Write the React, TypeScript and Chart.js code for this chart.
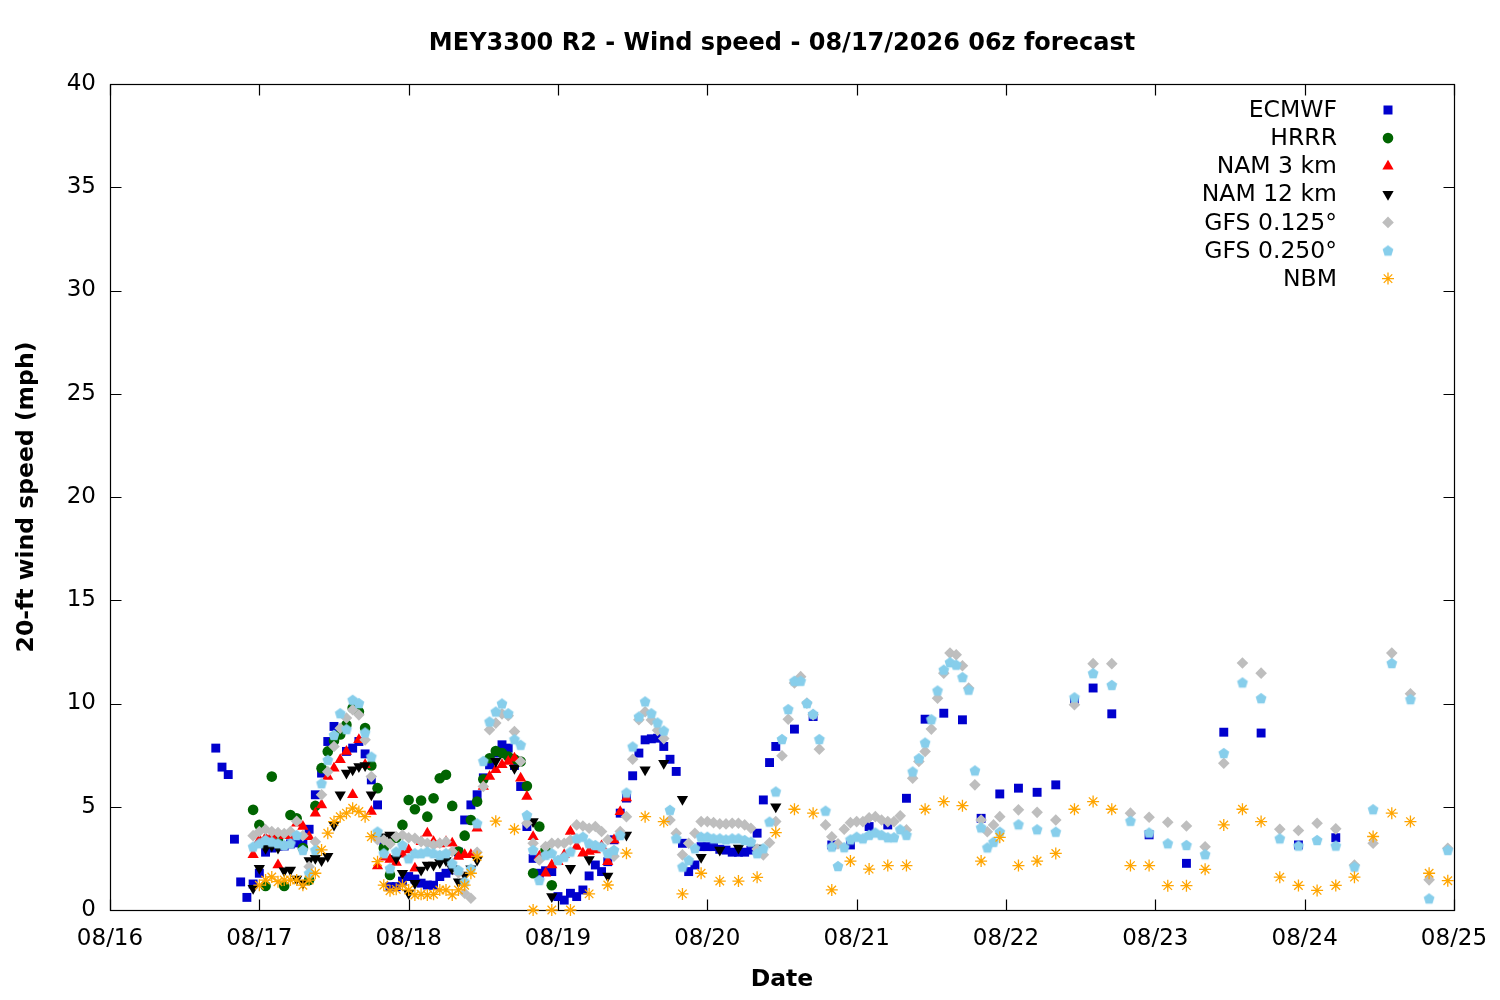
import React, { useEffect, useRef } from 'react';
import { Chart, registerables } from 'chart.js';

Chart.register(...registerables);

// ---------- axis labels ----------
const dateLabels = ['08/16', '08/17', '08/18', '08/19', '08/20', '08/21', '08/22', '08/23', '08/24', '08/25'];
const seriesNames = ['ECMWF', 'HRRR', 'NAM 3 km', 'NAM 12 km', 'GFS 0.125°', 'GFS 0.250°', 'NBM'];

// hours since 08/16 00:00 local time
function range(start: number, end: number, step: number): number[] {
  const r: number[] = [];
  for (let h = start; h <= end; h += step) r.push(h);
  return r;
}

// ---------- ECMWF ----------
const ecmwfHours = [...range(17, 107, 1), ...range(110, 161, 3), ...range(167, 197, 6)];
const ecmwfValues = [
  7.84, 6.92, 6.56, 3.43, 1.36, 0.61, 1.26, 1.78, 2.8, 3.0,
  3.1, 3.1, 3.2, 3.25, 3.23, 3.91, 5.58, 6.63, 8.16, 8.89,
  8.73, 7.68, 7.84, 8.16, 7.56, 6.3, 5.09, 3.23, 1.13, 1.13,
  1.4, 1.62, 1.5, 1.3, 1.21, 1.2, 1.62, 1.78, 1.94, 2.8,
  4.36, 5.09, 5.58, 6.4, 7.03, 7.6, 8.0, 7.84, 7.0, 5.98,
  4.04, 2.5, 1.78, 1.9, 1.86, 0.65, 0.48, 0.81, 0.65, 0.97,
  1.65, 2.18, 1.86, 2.34, 3.4, 4.69, 5.42, 6.5, 7.6, 8.24,
  8.29, 8.32, 7.92, 7.3, 6.71, 3.23, 1.86, 2.18, 3.07, 3.07,
  3.07, 2.94, 2.9, 2.8, 2.8, 2.8, 2.9, 3.72, 5.33, 7.14,
  7.92,
  8.76, 9.37, 3.15, 3.15, 4.04, 4.12, 5.41, 9.24, 9.53, 9.21,
  4.44, 5.62, 5.9, 5.7, 6.06, 10.1, 10.75, 9.5,
  3.64, 2.26, 8.61, 8.57, 3.15, 3.5,
];

// ---------- HRRR ----------
const hrrrHours = range(23, 71, 1);
const hrrrValues = [
  4.85, 4.12, 1.16, 6.46, 3.4, 1.16, 4.6, 4.44, 3.0, 1.45,
  5.04, 6.87, 7.68, 8.2, 8.5, 8.97, 9.78, 9.6, 8.81, 7.0,
  5.9, 3.0, 1.7, 3.5, 4.12, 5.33, 4.88, 5.3, 4.52, 5.41,
  6.38, 6.55, 5.04, 2.83, 3.6, 4.36, 5.25, 6.33, 7.35, 7.7,
  7.6, 7.43, 7.3, 7.19, 6.0, 1.78, 4.04, 2.9, 1.2,
];

// ---------- NAM 3 km ----------
const nam3Hours = range(23, 83, 1);
const nam3Values = [
  2.67, 3.4, 3.5, 3.6, 2.18, 3.6, 3.6, 4.2, 4.04, 3.55,
  4.68, 5.09, 6.46, 6.87, 7.27, 7.68, 5.58, 8.24, 7.03, 4.77,
  2.13, 2.55, 2.45, 2.3, 2.7, 2.9, 2.02, 3.3, 3.72, 3.3,
  3.2, 3.3, 3.23, 2.59, 2.67, 2.67, 3.96, 5.98, 6.46, 6.79,
  7.03, 7.19, 7.35, 6.38, 5.5, 3.55, 2.6, 1.78, 2.18, 2.34,
  2.67, 3.8, 3.07, 2.75, 2.83, 2.9, 3.1, 2.34, 3.39, 4.76,
  5.42,
];

// ---------- NAM 12 km ----------
const nam12Hours = [...range(23, 59, 1), ...range(62, 107, 3)];
const nam12Values = [
  1.05, 2.02, 2.99, 3.1, 3.0, 1.9, 1.94, 1.5, 1.3, 2.4,
  2.51, 2.4, 2.6, 4.12, 5.58, 6.63, 6.79, 6.95, 7.0, 5.58,
  3.5, 3.55, 3.63, 2.5, 1.78, 0.81, 1.29, 1.94, 2.18, 2.18,
  2.3, 2.4, 2.0, 1.37, 1.7, 2.0, 2.42,
  7.2, 6.87, 4.28, 0.65, 2.02, 2.45, 1.65, 3.63, 6.79, 7.11,
  5.36, 2.55, 2.9, 3.0, 3.0, 5.0,
];

// ---------- GFS (both resolutions share the time base) ----------
const gfsHours = [...range(23, 143, 1), ...range(146, 215, 3)];
const gfs125Values = [
  3.6, 3.8, 3.9, 3.8, 3.75, 3.7, 3.8, 4.3, 3.6, 2.1,
  3.3, 5.58, 6.7, 7.92, 8.8, 9.3, 9.7, 9.45, 8.24, 6.46,
  3.4, 3.39, 3.2, 3.55, 3.63, 3.5, 3.47, 3.31, 3.23, 3.15,
  3.23, 3.31, 2.83, 1.8, 0.81, 0.57, 2.8, 5.98, 8.73, 9.05,
  9.5, 9.41, 8.64, 7.19, 4.2, 3.23, 2.42, 3.07, 3.23, 3.23,
  3.23, 3.39, 4.12, 4.07, 3.96, 4.04, 3.8, 3.4, 2.6, 3.8,
  4.52, 7.3, 9.21, 9.6, 9.2, 8.7, 8.3, 4.36, 3.72, 2.67,
  3.23, 3.72, 4.28, 4.28, 4.23, 4.17, 4.17, 4.2, 4.2, 4.12,
  3.96, 2.95, 2.67, 3.26, 4.28, 7.47, 9.24, 10.99, 11.3, 10.02,
  9.45, 7.79, 4.12, 3.55, 3.2, 3.91, 4.23, 4.28, 4.28, 4.47,
  4.52, 4.36, 4.28, 4.28, 4.56, 3.88, 6.38, 7.19, 7.68, 8.76,
  10.26, 11.47, 12.44, 12.36, 11.83, 10.75, 6.06, 4.36, 3.79, 4.12,
  4.52,
  4.85, 4.73, 4.36, 9.94, 11.93, 11.93, 4.69, 4.49, 4.25, 4.07,
  3.06, 7.11, 11.96, 11.47, 3.91, 3.85, 4.2, 3.93, 2.18, 3.23,
  12.44, 10.47, 1.46, 2.99,
];
const gfs250Values = [
  3.07, 3.23, 3.39, 3.31, 3.23, 3.15, 3.23, 3.63, 2.91, 1.78,
  2.91, 6.14, 7.27, 8.48, 9.53, 8.76, 10.18, 10.02, 8.6, 7.43,
  3.8, 2.75, 2.02, 2.83, 3.15, 2.5, 2.75, 2.75, 2.83, 2.75,
  2.67, 2.75, 2.26, 1.94, 1.37, 2.0, 4.2, 7.22, 9.13, 9.61,
  10.0, 9.53, 8.27, 8.0, 4.6, 2.91, 1.45, 2.67, 2.75, 2.42,
  2.58, 2.83, 3.47, 3.55, 3.23, 3.15, 3.07, 2.75, 2.91, 3.63,
  5.69, 7.92, 9.37, 10.1, 9.53, 9.08, 8.69, 4.85, 3.47, 2.1,
  2.42, 2.99, 3.55, 3.55, 3.47, 3.47, 3.42, 3.47, 3.47, 3.39,
  3.31, 2.75, 2.99, 4.28, 5.74, 8.28, 9.73, 11.1, 11.1, 10.02,
  9.5, 8.28, 4.81, 3.07, 2.13, 3.04, 3.42, 3.55, 3.47, 3.64,
  3.75, 3.64, 3.52, 3.52, 3.91, 3.64, 6.71, 7.35, 8.11, 9.24,
  10.63, 11.64, 12.0, 11.88, 11.28, 10.67, 6.76, 4.0, 3.03, 3.3,
  3.79,
  4.15, 3.91, 3.79, 10.3, 11.47, 10.9, 4.32, 3.75, 3.23, 3.15,
  2.7, 7.6, 11.02, 10.26, 3.47, 3.12, 3.39, 3.12, 2.1, 4.88,
  11.96, 10.21, 0.56, 2.91,
];

// ---------- NBM ----------
const nbmHours = [...range(24, 59, 1), ...range(62, 215, 3)];
const nbmValues = [
  1.2, 1.45, 1.6, 1.37, 1.45, 1.45, 1.45, 1.2, 1.45, 1.78,
  2.91, 3.72, 4.28, 4.52, 4.69, 4.93, 4.77, 4.52, 3.55, 2.34,
  1.2, 0.93, 1.0, 1.2, 0.97, 0.73, 0.76, 0.73, 0.76, 0.97,
  0.97, 0.73, 0.97, 1.2, 1.78, 2.59,
  4.3, 3.91, 0.0, 0.0, 0.0, 0.78, 1.21, 2.75, 4.52, 4.28,
  0.78, 1.78, 1.4, 1.4, 1.58, 3.75, 4.88, 4.69, 0.97, 2.37,
  1.98, 2.15, 2.15, 4.88, 5.25, 5.05, 2.37, 3.52, 2.15, 2.37,
  2.74, 4.88, 5.25, 4.88, 2.15, 2.15, 1.18, 1.18, 1.97, 4.12,
  4.88, 4.28, 1.59, 1.19, 0.95, 1.19, 1.59, 3.56, 4.69, 4.28,
  1.78, 1.42,
];

const yTickValues = [0, 5, 10, 15, 20, 25, 30, 35, 40];

const COLORS = ['#0000cd', '#006400', '#ff0000', '#000000', '#bebebe', '#87ceeb', '#ffa500'];
const FONT = '"DejaVu Sans", Verdana, sans-serif';

function pts(hours: number[], values: number[]) {
  return hours.map((h, i) => ({ x: h, y: values[i] }));
}

function makePentagon(color: string, r: number): HTMLCanvasElement {
  const size = Math.ceil(r * 2 + 2);
  const c = document.createElement('canvas');
  c.width = size;
  c.height = size;
  const g = c.getContext('2d')!;
  const cx = size / 2;
  const cy = size / 2 + r * 0.1;
  g.fillStyle = color;
  g.beginPath();
  for (let k = 0; k < 5; k++) {
    const a = -Math.PI / 2 + (k * 2 * Math.PI) / 5;
    const px = cx + r * Math.cos(a);
    const py = cy + r * Math.sin(a);
    if (k === 0) g.moveTo(px, py);
    else g.lineTo(px, py);
  }
  g.closePath();
  g.fill();
  return c;
}

function drawMarker(ctx: CanvasRenderingContext2D, kind: number, x: number, y: number, pent: HTMLCanvasElement) {
  ctx.save();
  ctx.fillStyle = COLORS[kind];
  ctx.strokeStyle = COLORS[kind];
  ctx.beginPath();
  if (kind === 0) {
    ctx.rect(x - 4.5, y - 4.5, 9, 9);
    ctx.fill();
  } else if (kind === 1) {
    ctx.arc(x, y, 5.3, 0, Math.PI * 2);
    ctx.fill();
  } else if (kind === 2 || kind === 3) {
    let rad = kind === 3 ? Math.PI : 0;
    const r = 6.5;
    ctx.moveTo(x + Math.sin(rad) * r, y - Math.cos(rad) * r);
    rad += (2 * Math.PI) / 3;
    ctx.lineTo(x + Math.sin(rad) * r, y - Math.cos(rad) * r);
    rad += (2 * Math.PI) / 3;
    ctx.lineTo(x + Math.sin(rad) * r, y - Math.cos(rad) * r);
    ctx.closePath();
    ctx.fill();
  } else if (kind === 4) {
    const r = 5.8;
    ctx.moveTo(x, y - r);
    ctx.lineTo(x + r, y);
    ctx.lineTo(x, y + r);
    ctx.lineTo(x - r, y);
    ctx.closePath();
    ctx.fill();
  } else if (kind === 5) {
    ctx.drawImage(pent, x - pent.width / 2, y - pent.height / 2);
  } else {
    const r = 6;
    ctx.lineWidth = 1.3;
    for (let k = 0; k < 4; k++) {
      const a = (k * Math.PI) / 4;
      ctx.moveTo(x - Math.cos(a) * r, y - Math.sin(a) * r);
      ctx.lineTo(x + Math.cos(a) * r, y + Math.sin(a) * r);
    }
    ctx.stroke();
  }
  ctx.restore();
}

export default function App() {
  const ref = useRef<HTMLCanvasElement>(null);

  useEffect(() => {
    document.body.style.margin = '0';
    const pent = makePentagon(COLORS[5], 5.7);

    const framePlugin = {
      id: 'gnuFrame',
      beforeDatasetsDraw(chart: any) {
        const { ctx, chartArea: a, scales } = chart;
        ctx.save();
        ctx.strokeStyle = '#000';
        ctx.lineWidth = 1.2;
        const L = Math.round(a.left) + 0.5;
        const R = Math.round(a.right) + 0.5;
        const T = Math.round(a.top) + 0.5;
        const B = Math.round(a.bottom) + 0.5;
        ctx.strokeRect(L, T, R - L, B - T);
        ctx.beginPath();
        const tl = 11;
        for (const v of yTickValues) {
          const py = Math.round(scales.y.getPixelForValue(v)) + 0.5;
          ctx.moveTo(L, py);
          ctx.lineTo(L + tl, py);
          ctx.moveTo(R, py);
          ctx.lineTo(R - tl, py);
        }
        for (let d = 0; d < dateLabels.length; d++) {
          const px = Math.round(scales.x.getPixelForValue(d * 24)) + 0.5;
          ctx.moveTo(px, B);
          ctx.lineTo(px, B - tl);
          ctx.moveTo(px, T);
          ctx.lineTo(px, T + tl);
        }
        ctx.stroke();
        ctx.restore();
      },
      afterDraw(chart: any) {
        const { ctx, chartArea: a } = chart;
        ctx.save();
        ctx.fillStyle = '#000';
        ctx.font = `bold 24px ${FONT}`;
        ctx.textAlign = 'center';
        ctx.textBaseline = 'middle';
        ctx.fillText('MEY3300 R2 - Wind speed - 08/17/2026 06z forecast', (a.left + a.right) / 2, 44);

        ctx.font = `23.5px ${FONT}`;
        ctx.textAlign = 'right';
        for (let i = 0; i < seriesNames.length; i++) {
          const y = 110 + i * 28.1;
          ctx.fillStyle = '#000';
          ctx.fillText(seriesNames[i], a.right - 117, y + 1);
          drawMarker(ctx, i, a.right - 66, y, pent);
        }
        ctx.restore();
      },
    };

    const common = { showLine: false, clip: false as any, pointBorderWidth: 0, pointHoverBorderWidth: 0 };

    const datasets: any[] = [
      { label: seriesNames[0], data: pts(ecmwfHours, ecmwfValues), pointStyle: 'rect', pointRadius: 6.3, pointHoverRadius: 6.3, backgroundColor: COLORS[0], pointBackgroundColor: COLORS[0], order: 7 },
      { label: seriesNames[1], data: pts(hrrrHours, hrrrValues), pointStyle: 'circle', pointRadius: 5.3, pointHoverRadius: 5.3, backgroundColor: COLORS[1], pointBackgroundColor: COLORS[1], order: 6 },
      { label: seriesNames[2], data: pts(nam3Hours, nam3Values), pointStyle: 'triangle', pointRadius: 6.5, pointHoverRadius: 6.5, backgroundColor: COLORS[2], pointBackgroundColor: COLORS[2], order: 5 },
      { label: seriesNames[3], data: pts(nam12Hours, nam12Values), pointStyle: 'triangle', pointRotation: 180, pointRadius: 6.5, pointHoverRadius: 6.5, backgroundColor: COLORS[3], pointBackgroundColor: COLORS[3], order: 4 },
      { label: seriesNames[4], data: pts(gfsHours, gfs125Values), pointStyle: 'rectRot', pointRadius: 5.8, pointHoverRadius: 5.8, backgroundColor: COLORS[4], pointBackgroundColor: COLORS[4], order: 3 },
      { label: seriesNames[5], data: pts(gfsHours, gfs250Values), pointStyle: pent, pointRadius: 6, pointHoverRadius: 6, backgroundColor: COLORS[5], pointBackgroundColor: COLORS[5], order: 2 },
      { label: seriesNames[6], data: pts(nbmHours, nbmValues), pointStyle: 'star', pointRadius: 6, pointHoverRadius: 6, borderColor: COLORS[6], pointBorderColor: COLORS[6], pointBackgroundColor: COLORS[6], order: 1, pointBorderWidth: 1.3 },
    ].map((d) => ({ ...common, ...d }));

    const chart = new Chart(ref.current!, {
      type: 'scatter',
      data: { datasets },
      options: {
        animation: false,
        responsive: false,
        devicePixelRatio: 1,
        events: [],
        layout: { padding: { top: 84, right: 46, left: 0, bottom: 0 } },
        plugins: { legend: { display: false }, title: { display: false }, tooltip: { enabled: false } },
        scales: {
          x: {
            type: 'linear',
            min: 0,
            max: 216,
            grid: { display: false, drawTicks: false },
            border: { display: false },
            ticks: {
              stepSize: 24,
              autoSkip: false,
              maxRotation: 0,
              padding: 15,
              color: '#000',
              font: { family: FONT, size: 23 },
              callback: (v: any) => dateLabels[Math.round(Number(v) / 24)] ?? '',
            },
            title: {
              display: true,
              text: 'Date',
              color: '#000',
              font: { family: FONT, size: 23.5, weight: 'bold' },
              padding: { top: 0, bottom: 6 },
            },
            afterFit: (s: any) => {
              s.height = 90;
              s.paddingLeft = 0;
              s.paddingRight = 0;
            },
          },
          y: {
            type: 'linear',
            min: 0,
            max: 40,
            grid: { display: false, drawTicks: false },
            border: { display: false },
            ticks: {
              stepSize: 5,
              padding: 14,
              color: '#000',
              font: { family: FONT, size: 23 },
            },
            title: {
              display: true,
              text: '20-ft wind speed (mph)',
              color: '#000',
              font: { family: FONT, size: 23.5, weight: 'bold' },
              padding: { top: 13, bottom: 0 },
            },
            afterFit: (s: any) => {
              s.width = 110;
              s.paddingTop = 0;
              s.paddingBottom = 0;
            },
          },
        },
      },
      plugins: [framePlugin],
    } as any);

    return () => chart.destroy();
  }, []);

  return (
    <div style={{ width: 1500, height: 1000 }}>
      <canvas ref={ref} width={1500} height={1000} style={{ display: 'block' }} />
    </div>
  );
}
